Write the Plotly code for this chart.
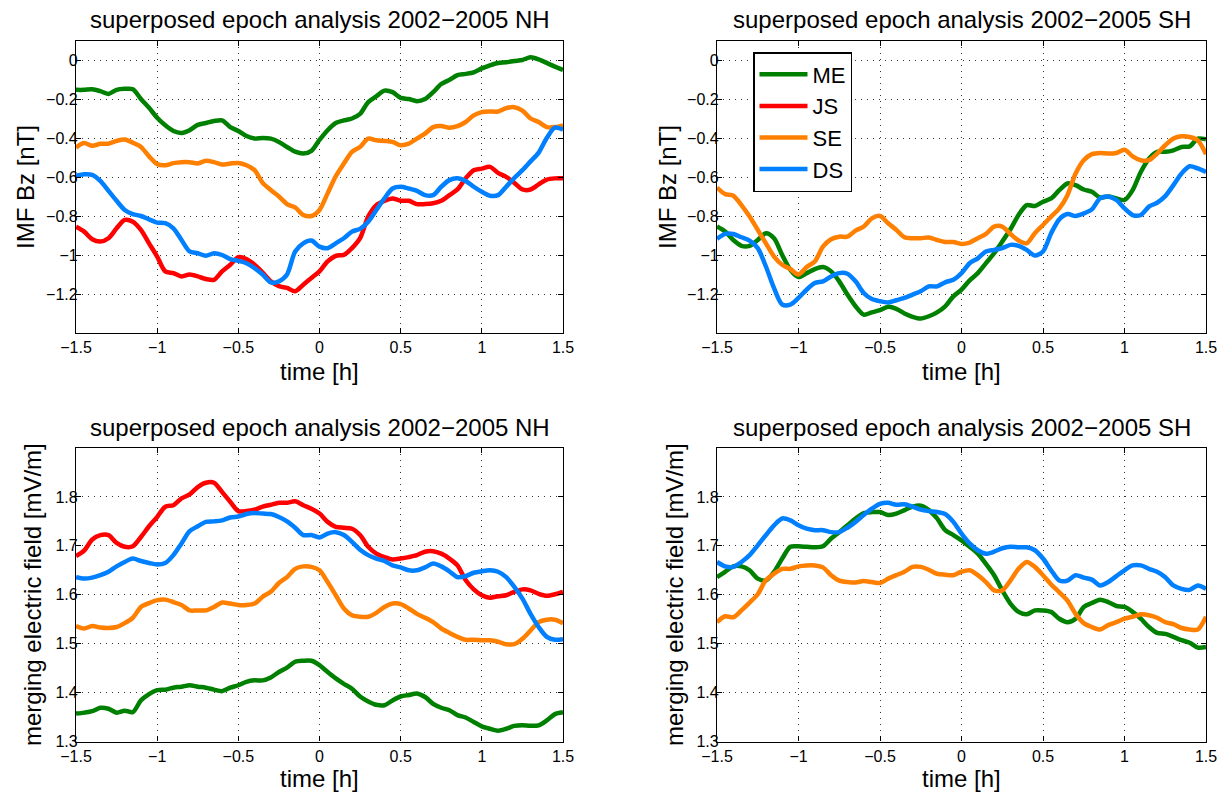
import numpy as np
import plotly.graph_objects as go

t = [round(-1.5 + 0.05 * i, 2) for i in range(61)]

# Top-left: IMF Bz NH
bz_nh_me = [-0.153,-0.153,-0.15,-0.16,-0.174,-0.153,-0.148,-0.15,-0.2,-0.245,-0.296,-0.335,-0.364,-0.374,-0.36,-0.333,-0.323,-0.313,-0.31,-0.344,-0.364,-0.39,-0.403,-0.40,-0.403,-0.42,-0.446,-0.47,-0.48,-0.466,-0.41,-0.36,-0.323,-0.31,-0.30,-0.276,-0.216,-0.186,-0.157,-0.165,-0.194,-0.2,-0.211,-0.2,-0.165,-0.123,-0.102,-0.077,-0.071,-0.063,-0.043,-0.027,-0.015,-0.012,-0.005,0.0,0.014,0.003,-0.015,-0.034,-0.051]
bz_nh_js = [-0.855,-0.88,-0.919,-0.931,-0.914,-0.863,-0.82,-0.829,-0.871,-0.94,-1.008,-1.084,-1.093,-1.11,-1.10,-1.11,-1.123,-1.127,-1.084,-1.05,-1.011,-1.021,-1.05,-1.09,-1.135,-1.16,-1.169,-1.186,-1.152,-1.118,-1.084,-1.033,-1.004,-0.999,-0.965,-0.914,-0.803,-0.744,-0.722,-0.71,-0.722,-0.722,-0.739,-0.739,-0.735,-0.722,-0.693,-0.664,-0.607,-0.565,-0.557,-0.548,-0.579,-0.599,-0.63,-0.664,-0.664,-0.638,-0.613,-0.607,-0.607]
bz_nh_se = [-0.449,-0.426,-0.44,-0.43,-0.429,-0.415,-0.408,-0.424,-0.446,-0.494,-0.534,-0.54,-0.529,-0.524,-0.524,-0.531,-0.517,-0.524,-0.536,-0.531,-0.528,-0.54,-0.565,-0.63,-0.667,-0.70,-0.739,-0.756,-0.795,-0.80,-0.769,-0.684,-0.596,-0.531,-0.471,-0.446,-0.403,-0.412,-0.415,-0.42,-0.437,-0.429,-0.403,-0.378,-0.344,-0.339,-0.347,-0.339,-0.318,-0.284,-0.267,-0.264,-0.264,-0.247,-0.242,-0.259,-0.30,-0.318,-0.344,-0.344,-0.335]
bz_nh_ds = [-0.594,-0.586,-0.589,-0.62,-0.671,-0.722,-0.769,-0.79,-0.80,-0.817,-0.834,-0.837,-0.863,-0.923,-0.982,-0.991,-1.004,-0.991,-1.0,-1.021,-1.03,-1.042,-1.067,-1.10,-1.14,-1.135,-1.10,-0.982,-0.94,-0.926,-0.957,-0.965,-0.94,-0.914,-0.88,-0.866,-0.829,-0.769,-0.71,-0.659,-0.65,-0.659,-0.671,-0.693,-0.693,-0.65,-0.616,-0.607,-0.62,-0.65,-0.676,-0.696,-0.693,-0.65,-0.605,-0.565,-0.52,-0.475,-0.40,-0.347,-0.357]

# Top-right: IMF Bz SH
bz_sh_me = [-0.854,-0.88,-0.923,-0.953,-0.953,-0.923,-0.888,-0.914,-1.0,-1.076,-1.113,-1.093,-1.072,-1.062,-1.084,-1.135,-1.203,-1.263,-1.306,-1.294,-1.283,-1.266,-1.276,-1.30,-1.317,-1.326,-1.314,-1.294,-1.263,-1.212,-1.178,-1.13,-1.093,-1.042,-0.991,-0.931,-0.868,-0.795,-0.744,-0.749,-0.727,-0.71,-0.667,-0.633,-0.642,-0.664,-0.676,-0.705,-0.70,-0.71,-0.718,-0.667,-0.574,-0.506,-0.471,-0.471,-0.463,-0.446,-0.443,-0.403,-0.407]
bz_sh_se = [-0.654,-0.688,-0.696,-0.744,-0.803,-0.871,-0.94,-1.008,-1.05,-1.072,-1.10,-1.062,-1.033,-0.957,-0.919,-0.906,-0.906,-0.875,-0.854,-0.812,-0.80,-0.837,-0.871,-0.909,-0.914,-0.914,-0.91,-0.923,-0.933,-0.933,-0.943,-0.936,-0.914,-0.892,-0.854,-0.854,-0.892,-0.926,-0.94,-0.888,-0.846,-0.803,-0.761,-0.693,-0.582,-0.514,-0.483,-0.477,-0.48,-0.477,-0.46,-0.494,-0.514,-0.514,-0.48,-0.437,-0.403,-0.391,-0.395,-0.412,-0.483]
bz_sh_ds = [-0.917,-0.892,-0.892,-0.909,-0.926,-0.965,-1.059,-1.17,-1.254,-1.254,-1.22,-1.178,-1.144,-1.135,-1.11,-1.093,-1.096,-1.135,-1.195,-1.226,-1.237,-1.243,-1.232,-1.22,-1.203,-1.186,-1.161,-1.161,-1.14,-1.127,-1.093,-1.042,-1.017,-0.982,-0.974,-0.965,-0.948,-0.953,-0.974,-1.003,-0.982,-0.888,-0.817,-0.79,-0.80,-0.787,-0.766,-0.71,-0.70,-0.718,-0.761,-0.795,-0.795,-0.752,-0.732,-0.698,-0.642,-0.582,-0.545,-0.556,-0.574]

# Bottom-left: merging electric field NH
ef_nh_me = [1.357,1.359,1.362,1.369,1.367,1.359,1.363,1.360,1.384,1.397,1.405,1.406,1.410,1.412,1.415,1.412,1.410,1.406,1.403,1.410,1.415,1.422,1.425,1.425,1.431,1.442,1.451,1.463,1.465,1.465,1.456,1.442,1.429,1.418,1.408,1.392,1.382,1.375,1.374,1.384,1.392,1.395,1.398,1.391,1.377,1.369,1.364,1.354,1.349,1.340,1.331,1.326,1.322,1.326,1.332,1.333,1.332,1.333,1.343,1.356,1.360]
ef_nh_js = [1.679,1.690,1.713,1.722,1.722,1.706,1.698,1.699,1.718,1.740,1.759,1.780,1.783,1.797,1.805,1.820,1.829,1.829,1.810,1.790,1.771,1.771,1.774,1.780,1.784,1.788,1.788,1.791,1.783,1.776,1.766,1.749,1.739,1.737,1.735,1.722,1.698,1.684,1.677,1.672,1.674,1.677,1.681,1.688,1.689,1.684,1.674,1.660,1.630,1.611,1.599,1.594,1.597,1.599,1.606,1.611,1.609,1.602,1.598,1.601,1.606]
ef_nh_se = [1.536,1.531,1.536,1.533,1.532,1.534,1.542,1.553,1.575,1.583,1.589,1.590,1.585,1.579,1.568,1.568,1.568,1.575,1.584,1.582,1.579,1.579,1.582,1.596,1.606,1.624,1.636,1.653,1.658,1.657,1.650,1.626,1.599,1.572,1.558,1.555,1.555,1.563,1.575,1.582,1.581,1.572,1.561,1.553,1.544,1.531,1.522,1.514,1.508,1.508,1.507,1.507,1.504,1.499,1.499,1.510,1.527,1.544,1.549,1.549,1.542]
ef_nh_ds = [1.636,1.633,1.635,1.640,1.647,1.658,1.667,1.674,1.669,1.665,1.662,1.665,1.681,1.705,1.730,1.740,1.749,1.750,1.752,1.758,1.760,1.765,1.767,1.766,1.765,1.759,1.750,1.737,1.722,1.722,1.717,1.725,1.728,1.722,1.708,1.692,1.681,1.674,1.669,1.660,1.656,1.650,1.650,1.656,1.664,1.658,1.648,1.636,1.638,1.645,1.648,1.650,1.647,1.636,1.616,1.592,1.561,1.534,1.514,1.508,1.509]

# Bottom-right: merging electric field SH
ef_sh_me = [1.636,1.647,1.658,1.658,1.650,1.633,1.629,1.647,1.674,1.698,1.699,1.698,1.697,1.699,1.715,1.728,1.742,1.756,1.767,1.769,1.769,1.763,1.766,1.773,1.780,1.782,1.773,1.756,1.732,1.722,1.711,1.698,1.684,1.663,1.640,1.609,1.582,1.565,1.560,1.568,1.568,1.565,1.551,1.544,1.551,1.575,1.583,1.590,1.585,1.577,1.575,1.565,1.551,1.534,1.522,1.520,1.514,1.507,1.502,1.492,1.493]
ef_sh_se = [1.544,1.556,1.554,1.568,1.584,1.601,1.630,1.643,1.653,1.653,1.658,1.660,1.660,1.656,1.640,1.629,1.626,1.625,1.628,1.626,1.624,1.633,1.640,1.647,1.657,1.657,1.651,1.643,1.641,1.640,1.647,1.650,1.640,1.626,1.609,1.609,1.629,1.653,1.667,1.657,1.640,1.621,1.605,1.588,1.561,1.542,1.534,1.529,1.538,1.544,1.551,1.555,1.560,1.558,1.553,1.544,1.540,1.532,1.529,1.529,1.555]
ef_sh_ds = [1.667,1.658,1.657,1.667,1.681,1.701,1.722,1.742,1.756,1.752,1.742,1.735,1.732,1.732,1.728,1.728,1.737,1.749,1.763,1.776,1.786,1.788,1.784,1.785,1.780,1.774,1.771,1.769,1.765,1.749,1.725,1.705,1.691,1.684,1.688,1.695,1.698,1.697,1.697,1.691,1.674,1.650,1.629,1.629,1.640,1.635,1.631,1.619,1.626,1.638,1.650,1.660,1.660,1.653,1.647,1.636,1.619,1.612,1.610,1.619,1.612]

series_names = ["ME", "JS", "SE", "DS"]
colors = {"ME": "#008000", "JS": "#FF0000", "SE": "#FF8000", "DS": "#0080FF"}

title_nh = "superposed epoch analysis 2002\u22122005 NH"
title_sh = "superposed epoch analysis 2002\u22122005 SH"
xt = [-1.5, -1, -0.5, 0, 0.5, 1, 1.5]
yt_bz = [0, -0.2, -0.4, -0.6, -0.8, -1, -1.2]
yt_ef = [1.3, 1.4, 1.5, 1.6, 1.7, 1.8]

W, H = 1222, 793
px_x = lambda p: p / W
px_y = lambda p: 1 - p / H

dom_x1 = [px_x(76), px_x(563)]
dom_x2 = [px_x(717), px_x(1206)]
dom_ytop = [px_y(333), px_y(40.5)]
dom_ybot = [px_y(741.5), px_y(448)]

panels = [
    ("x", "y", dom_x1, dom_ytop, {"ME": bz_nh_me, "JS": bz_nh_js, "SE": bz_nh_se, "DS": bz_nh_ds}),
    ("x2", "y2", dom_x2, dom_ytop, {"ME": bz_sh_me, "SE": bz_sh_se, "DS": bz_sh_ds}),
    ("x3", "y3", dom_x1, dom_ybot, {"ME": ef_nh_me, "JS": ef_nh_js, "SE": ef_nh_se, "DS": ef_nh_ds}),
    ("x4", "y4", dom_x2, dom_ybot, {"ME": ef_sh_me, "SE": ef_sh_se, "DS": ef_sh_ds}),
]

fig = go.Figure()
for i, (xa, ya, dx, dy, data) in enumerate(panels):
    for name in series_names:
        if name not in data:
            continue
        fig.add_trace(go.Scatter(
            x=t, y=data[name], mode="lines", name=name, xaxis=xa, yaxis=ya,
            line=dict(color=colors[name], width=4.5, shape="spline", smoothing=0.8),
            showlegend=(i == 0), hoverinfo="skip"))

font_family = "Liberation Sans, Arial, Helvetica, sans-serif"
axis_common = dict(
    showline=True, linecolor="black", linewidth=1.3, mirror="ticks",
    ticks="inside", ticklen=5, tickcolor="black", tickwidth=1,
    showgrid=True, gridcolor="#333333", griddash="1px,5px", gridwidth=1,
    zeroline=False, tickfont=dict(family=font_family, size=16, color="black"),
    automargin=False,
)
layout = dict(
    width=W, height=H,
    margin=dict(l=0, r=0, t=0, b=0, autoexpand=False),
    paper_bgcolor="white", plot_bgcolor="white",
    font=dict(family=font_family, color="black"),
    showlegend=True,
    legend=dict(x=px_x(753), y=px_y(52), xanchor="left", yanchor="top",
                bordercolor="black", borderwidth=1.5, bgcolor="white",
                font=dict(size=22, family=font_family), tracegroupgap=0,
                itemwidth=48),
)
for k, (xa, ya, dx, dy, data) in enumerate(panels):
    xs = "xaxis" if xa == "x" else "xaxis" + xa[1:]
    ys = "yaxis" if ya == "y" else "yaxis" + ya[1:]
    layout[xs] = dict(axis_common, domain=dx, range=[-1.5, 1.5], tickvals=xt,
                      anchor=ya)
    if k < 2:
        layout[ys] = dict(axis_common, domain=dy, range=[-1.4, 0.1],
                          tickvals=yt_bz, anchor=xa, ticklabelstandoff=-6)
    else:
        layout[ys] = dict(axis_common, domain=dy, range=[1.3, 1.9],
                          tickvals=yt_ef, anchor=xa, ticklabelstandoff=-6)
fig.update_layout(**layout)

ann = []
def add_text(text, x, y, size=24, angle=0):
    ann.append(dict(text=text, x=px_x(x), y=px_y(y), xref="paper", yref="paper",
                    showarrow=False, textangle=angle,
                    font=dict(size=size, family=font_family, color="black"),
                    xanchor="center", yanchor="middle"))

add_text(title_nh, 319.5, 19)
add_text(title_sh, 961.5, 19)
add_text(title_nh, 319.5, 427)
add_text(title_sh, 961.5, 427)
add_text("time [h]", 319.5, 371)
add_text("time [h]", 961.5, 371)
add_text("time [h]", 319.5, 778)
add_text("time [h]", 961.5, 778)
add_text("IMF Bz [nT]", 25, 187, angle=-90)
add_text("IMF Bz [nT]", 667, 187, angle=-90)
add_text("merging electric field [mV/m]", 32, 595, angle=-90)
add_text("merging electric field [mV/m]", 674, 595, angle=-90)
fig.update_layout(annotations=ann)

fig.write_html("out.html", config={"displayModeBar": False},
               post_script="document.body.style.margin='0';document.body.style.padding='0';")
